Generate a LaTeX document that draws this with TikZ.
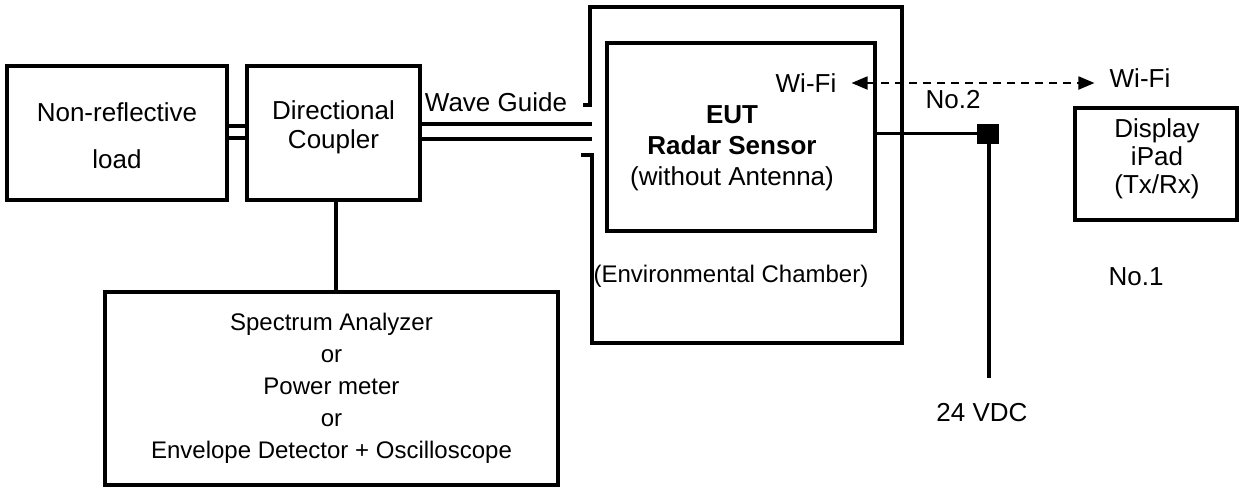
\documentclass[tikz,border=0pt]{standalone}
\usepackage{fontspec}
\setmainfont{Liberation Sans}
\usetikzlibrary{arrows.meta,calc}
\tikzset{
  ln/.style={line width=3.2pt},
  box/.style={draw, line width=3.2pt, inner sep=0pt, align=center},
  lbl/.style={inner sep=0pt, align=center, font=\fontsize{26}{31}\selectfont},
  slbl/.style={inner sep=0pt, align=center, font=\fontsize{24}{32}\selectfont},
  wifi/.style={inner ysep=0pt, inner xsep=15pt, font=\fontsize{26}{31}\selectfont},
}
\begin{document}
\begin{tikzpicture}[x=1pt,y=-1pt]
\useasboundingbox (0,0) rectangle (1239,490);

% boxes
\node[box, minimum width=220pt, minimum height=134pt] (nr) at (117,133) {};
\node[lbl] (nrt) at (117,136) {Non-reflective\\[16pt]load};
\node[box, minimum width=173pt, minimum height=134pt] (dc) at (333.5,133) {};
\node[lbl] (dct) at (333.5,127.5) {Directional\\[-2pt]Coupler};
\node[box, minimum width=268pt, minimum height=188pt] (eut) at (741,137) {};
\node[lbl] (eutt) at (732,148) {\textbf{EUT}\\\textbf{Radar Sensor}\\(without Antenna)};
\node[box, minimum width=162pt, minimum height=112pt] (disp) at (1156,164) {};
\node[lbl] (dispt) at (1157,159) {Display\\[-3pt]iPad\\[-3pt](Tx/Rx)};
\node[box, minimum width=453pt, minimum height=193pt, font=\fontsize{24}{32}\selectfont] (sa) at (331.5,388.5)
  {Spectrum Analyzer\\or\\Power meter\\or\\Envelope Detector + Oscilloscope};

% environmental chamber (open on the left for the wave guide)
\draw[ln] (583,105) -- (590,105) -- (590,7) -- (902,7) -- (902,343) -- (592,343) -- (592,155) -- (581,155);
\node[slbl] (cht) at (731,276) {(Environmental Chamber)};

% load -- coupler
\draw[ln] ($(nr.east)+(0,-7)$) -- ($(dc.west)+(0,-7)$);
\draw[ln] ($(nr.east)+(0,5)$) -- ($(dc.west)+(0,5)$);

% wave guide
\coordinate (wgend) at (592,133);
\draw[ln] ($(dc.east)+(0,-9)$) -- ($(wgend)+(0,-9)$);
\draw[ln] ($(dc.east)+(0,6)$) -- ($(wgend)+(0,6)$);
\node[lbl] (wgt) at (496,102) {Wave Guide};

% coupler -- analyzer
\draw[ln] ($(dc.south)+(2.5,0)$) -- ($(dc.south |- sa.north)+(2.5,0)$);

% Wi-Fi link
\node[wifi] (wifiL) at (806,83) {Wi-Fi};
\node[wifi] (wifiR) at (1140,78) {Wi-Fi};
\draw[line width=1.8pt, dash pattern=on 8pt off 6pt,
  {Triangle[length=16pt,width=13pt]}-{Triangle[length=16pt,width=13pt]}]
  (wifiL.east) -- (wifiL.east -| wifiR.west);

% power line
\node[draw, fill=black, minimum width=21pt, minimum height=19pt, inner sep=0pt, line width=0.5pt] (sq) at (987.5,133.5) {};
\draw[ln] (sq.west -| eut.east) -- (sq.west);
\coordinate (pend) at (989,378);
\draw[ln] (sq.south -| pend) -- (pend);
\node[lbl] (no2) at (953,100) {No.2};
\node[lbl] (no1) at (1136,277) {No.1};
\node[lbl] (vdc) at (982,413) {24 VDC};
\end{tikzpicture}
\end{document}
